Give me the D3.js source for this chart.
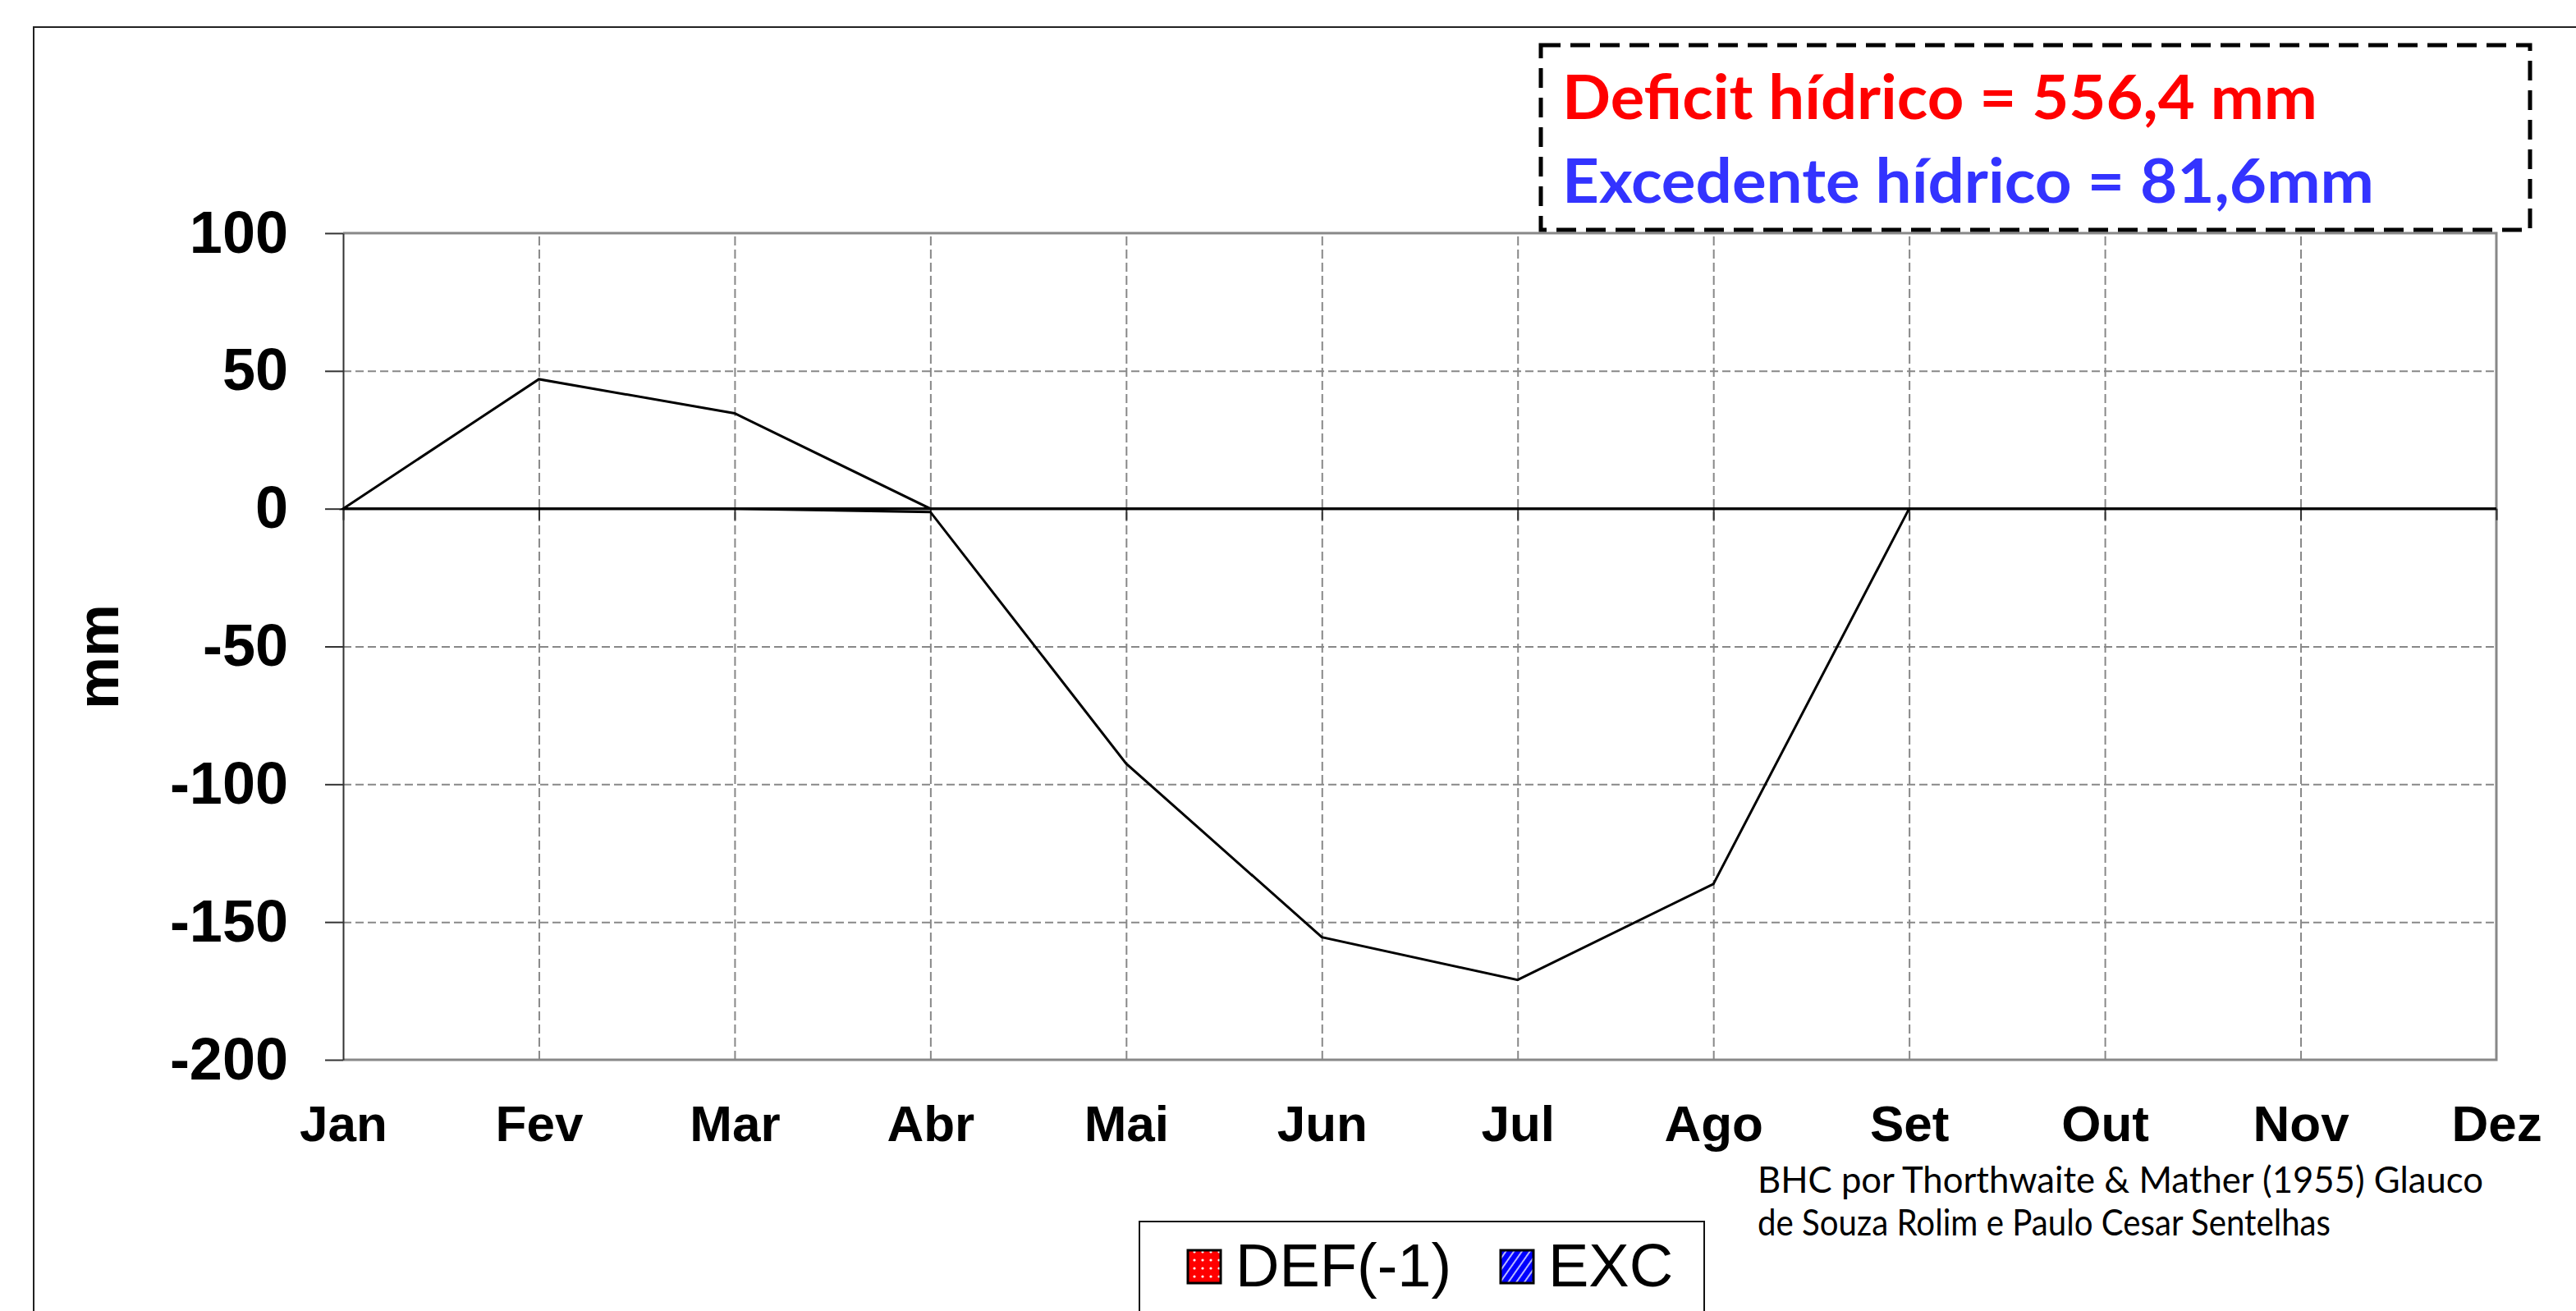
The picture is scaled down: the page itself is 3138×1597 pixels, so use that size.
<!DOCTYPE html>
<html>
<head>
<meta charset="utf-8">
<script src="https://cdn.jsdelivr.net/npm/d3@7"></script>
<style>
  html, body { margin: 0; padding: 0; background: #fff; }
  svg { display: block; }
</style>
</head>
<body>
<svg id="chart" width="3138" height="1597"></svg>
<script>
// data
const months = ['Jan', 'Fev', 'Mar', 'Abr', 'Mai', 'Jun', 'Jul', 'Ago', 'Set', 'Out', 'Nov', 'Dez'];
const excValues = [0, 47, 34.6, 0, 0, 0, 0, 0, 0, 0, 0, 0];
const defValues = [0, 0, 0, -1.2, -92.5, -155.5, -171, -136.2, 0, 0, 0, 0];
const yTicks = [100, 50, 0, -50, -100, -150, -200];
const legendLabels = ['DEF(-1)', 'EXC'];
const notes = ['Deficit hídrico = 556,4 mm', 'Excedente hídrico = 81,6mm'];
const credits = ['BHC por Thorthwaite & Mather (1955) Glauco', 'de Souza Rolim e Paulo Cesar Sentelhas'];

var svg = d3.select('#chart');

var plot = { left: 418, right: 3041, top: 284, bottom: 1291 };

var x = d3.scalePoint().domain(months).range([plot.left, plot.right]);
var y = d3.scaleLinear().domain([-200, 100]).range([plot.bottom, plot.top]);

// patterns for legend swatches
var defs = svg.append('defs');

var dots = defs.append('pattern')
    .attr('id', 'dots')
    .attr('width', 10).attr('height', 10)
    .attr('patternUnits', 'userSpaceOnUse');
dots.append('rect').attr('width', 10).attr('height', 10).attr('fill', '#ff0000');
dots.append('circle').attr('cx', 5).attr('cy', 5).attr('r', 1.6).attr('fill', '#fff');

var hatch = defs.append('pattern')
    .attr('id', 'hatch')
    .attr('width', 8).attr('height', 8)
    .attr('patternUnits', 'userSpaceOnUse')
    .attr('patternTransform', 'rotate(35)');
hatch.append('rect').attr('width', 8).attr('height', 8).attr('fill', '#0000ff');
hatch.append('rect').attr('width', 2).attr('height', 8).attr('fill', '#b8b8ff');

// outer frame
svg.append('path')
    .attr('d', 'M41,1597 V33 H3138')
    .attr('fill', 'none')
    .attr('stroke', '#222')
    .attr('stroke-width', 2);

// gridlines
svg.append('g')
    .attr('transform', `translate(${plot.left},0)`)
    .call(d3.axisLeft(y).tickValues([50, -50, -100, -150]).tickSize(-(plot.right - plot.left)).tickFormat(''))
    .call(g => g.select('.domain').remove())
    .selectAll('line')
    .attr('stroke', '#888')
    .attr('stroke-width', 2)
    .attr('stroke-dasharray', '10 5');

svg.append('g')
    .attr('transform', `translate(0,${plot.bottom})`)
    .call(d3.axisBottom(x).tickValues(months.slice(1, 11)).tickSize(-(plot.bottom - plot.top)).tickFormat(''))
    .call(g => g.select('.domain').remove())
    .selectAll('line')
    .attr('stroke', '#888')
    .attr('stroke-width', 2)
    .attr('stroke-dasharray', '11 5');

// plot border
svg.append('path')
    .attr('d', `M${plot.left},${plot.top} H${plot.right} V${plot.bottom} H${plot.left}`)
    .attr('fill', 'none')
    .attr('stroke', '#888')
    .attr('stroke-width', 3);

// y axis, hyphen minus like the original
var yAxis = svg.append('g')
    .attr('transform', `translate(${plot.left},0)`)
    .call(d3.axisLeft(y).tickValues(yTicks).tickFormat(d => String(d)).tickSize(22).tickPadding(45).tickSizeOuter(0));

yAxis.select('.domain').attr('stroke', '#333').attr('stroke-width', 2);
yAxis.selectAll('line').attr('stroke', '#333').attr('stroke-width', 2);
yAxis.selectAll('text')
    .attr('font-family', '"Liberation Sans", Arial, sans-serif')
    .attr('font-weight', 'bold')
    .attr('font-size', 72)
    .attr('fill', '#000');

// small ticks at the zero line
svg.append('g')
    .attr('transform', `translate(0,${y(0)})`)
    .call(d3.axisBottom(x).tickSize(14).tickFormat(''))
    .call(g => g.select('.domain').remove())
    .selectAll('line')
    .attr('stroke', '#333')
    .attr('stroke-width', 2);

// month labels
var xAxis = svg.append('g')
    .attr('transform', `translate(0,${plot.bottom})`)
    .call(d3.axisBottom(x).tickSize(0).tickPadding(55));

xAxis.select('.domain').remove();
xAxis.selectAll('text')
    .attr('font-family', '"Liberation Sans", Arial, sans-serif')
    .attr('font-weight', 'bold')
    .attr('font-size', 62)
    .attr('fill', '#000');

// y title
svg.append('text')
    .attr('transform', 'translate(144,800) rotate(-90)')
    .attr('text-anchor', 'middle')
    .attr('font-family', '"Liberation Sans", Arial, sans-serif')
    .attr('font-weight', 'bold')
    .attr('font-size', 72)
    .text('mm');

// areas, outline only
var area = d3.area()
    .x((d, i) => x(months[i]))
    .y0(y(0))
    .y1(d => y(d));

[defValues, excValues].forEach(values => {
    svg.append('path')
        .datum(values)
        .attr('d', area)
        .attr('fill', 'none')
        .attr('stroke', '#000')
        .attr('stroke-width', 3)
        .attr('stroke-linejoin', 'miter');
});

// annotation box
svg.append('rect')
    .attr('x', 1877).attr('y', 55)
    .attr('width', 1205).attr('height', 225)
    .attr('fill', '#fff')
    .attr('stroke', '#000')
    .attr('stroke-width', 5)
    .attr('stroke-dasharray', '24 12');

var noteColors = ['#ff0000', '#3333ff'];
var noteWidths = [920, 989];
var noteBase = [145, 247];

notes.forEach((t, i) => {
    svg.append('text')
        .attr('x', 1903)
        .attr('y', noteBase[i])
        .attr('font-family', 'Lato, "Open Sans", sans-serif')
        .attr('font-weight', 'bold')
        .attr('font-size', 74)
        .attr('fill', noteColors[i])
        .attr('textLength', noteWidths[i])
        .attr('lengthAdjust', 'spacingAndGlyphs')
        .text(t);
});

// credits
var creditWidths = [884, 698];
credits.forEach((t, i) => {
    svg.append('text')
        .attr('x', 2141)
        .attr('y', 1453 + i * 52)
        .attr('font-family', 'Lato, "Open Sans", sans-serif')
        .attr('font-size', 45)
        .attr('fill', '#000')
        .attr('textLength', creditWidths[i])
        .attr('lengthAdjust', 'spacingAndGlyphs')
        .text(t);
});

// legend
svg.append('rect')
    .attr('x', 1388).attr('y', 1488)
    .attr('width', 688).attr('height', 200)
    .attr('fill', '#fff')
    .attr('stroke', '#111')
    .attr('stroke-width', 2);

var legendX = [1447, 1828];
var legendFill = ['url(#dots)', 'url(#hatch)'];

legendLabels.forEach((t, i) => {
    svg.append('rect')
        .attr('x', legendX[i]).attr('y', 1523)
        .attr('width', 40).attr('height', 40)
        .attr('fill', legendFill[i])
        .attr('stroke', '#000')
        .attr('stroke-width', 3);
    svg.append('text')
        .attr('x', legendX[i] + 58)
        .attr('y', 1567)
        .attr('font-family', '"Liberation Sans", Arial, sans-serif')
        .attr('font-size', 74)
        .attr('fill', '#000')
        .text(t);
});
</script>
</body>
</html>
